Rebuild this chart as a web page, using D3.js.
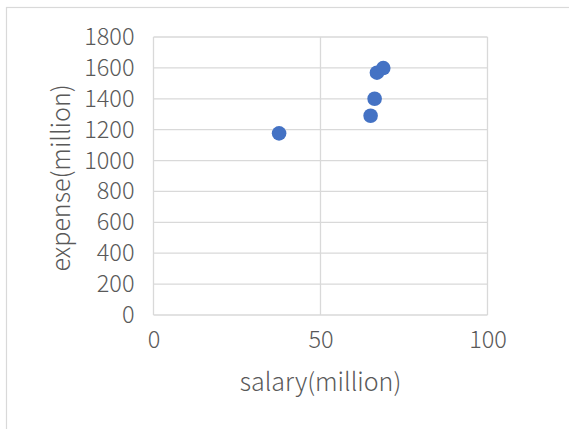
<!DOCTYPE html>
<html>
<head>
<meta charset="utf-8">
<script src="https://cdn.jsdelivr.net/npm/d3@7"></script>
<style>
  html, body { margin: 0; padding: 0; background: #fff; }
  svg { display: block; }
  text { font-family: "Noto Sans CJK SC", "Noto Sans", sans-serif; font-weight: 300; fill: #595959; }
</style>
</head>
<body>
<svg id="chart" width="569" height="429"></svg>
<script>
// salary vs. expense, both in millions
const salary  = [37.6, 65.0, 66.2, 66.9, 68.8];
const expense = [1176, 1290, 1400, 1569, 1599];

const xTicks = [0, 50, 100];
const yTicks = [0, 200, 400, 600, 800, 1000, 1200, 1400, 1600, 1800];

const xTitle = "salary(million)";
const yTitle = "expense(million)";

const W = 569, H = 429;
const plot = { left: 153.5, right: 487.5, top: 37, bottom: 315 };
const fontStack = '"Noto Sans CJK SC", "Noto Sans", sans-serif';

const svg = d3.select("#chart");

// chart frame
svg.append("rect")
  .attr("x", 6.5).attr("y", 7.5)
  .attr("width", W + 20).attr("height", H + 20)
  .attr("fill", "#fff")
  .attr("stroke", "#d9d9d9")
  .attr("stroke-width", 1.2);

const x = d3.scaleLinear().domain([0, 100]).range([plot.left, plot.right]);
const y = d3.scaleLinear().domain([0, 1800]).range([plot.bottom, plot.top]);

// gridlines
const grid = svg.append("g").attr("stroke", "#d9d9d9").attr("stroke-width", 1.3);
grid.selectAll("line.h").data(yTicks).join("line")
  .attr("x1", plot.left).attr("x2", plot.right)
  .attr("y1", d => y(d)).attr("y2", d => y(d));
grid.selectAll("line.v").data(xTicks).join("line")
  .attr("y1", plot.top).attr("y2", plot.bottom)
  .attr("x1", d => x(d)).attr("x2", d => x(d));

// y axis labels
const yAxis = svg.append("g")
  .attr("transform", `translate(${plot.left - 19},0)`)
  .call(d3.axisLeft(y).tickValues(yTicks).tickSize(0).tickPadding(0).tickFormat(d3.format("d")));
yAxis.select(".domain").remove();
yAxis.selectAll("text").attr("font-size", 23.5).attr("fill", "#595959")
  .style("font-family", fontStack).style("font-weight", 300);

// x axis labels
const xAxis = svg.append("g")
  .attr("transform", `translate(0,${plot.bottom + 16})`)
  .call(d3.axisBottom(x).tickValues(xTicks).tickSize(0).tickPadding(0).tickFormat(d3.format("d")));
xAxis.select(".domain").remove();
xAxis.selectAll("text").attr("font-size", 23.5).attr("fill", "#595959")
  .style("font-family", fontStack).style("font-weight", 300);

// axis titles
svg.append("text")
  .attr("x", (plot.left + plot.right) / 2).attr("y", 391)
  .attr("text-anchor", "middle").attr("font-size", 25)
  .text(xTitle);
svg.append("text")
  .attr("transform", `translate(70,${(plot.top + plot.bottom) / 2 + 2}) rotate(-90)`)
  .attr("text-anchor", "middle").attr("font-size", 25)
  .text(yTitle);

// points
svg.append("g").selectAll("circle")
  .data(salary.map((s, i) => ({ s, e: expense[i] })))
  .join("circle")
  .attr("cx", d => x(d.s)).attr("cy", d => y(d.e))
  .attr("r", 7.3)
  .attr("fill", "#4472c4");
</script>
</body>
</html>
